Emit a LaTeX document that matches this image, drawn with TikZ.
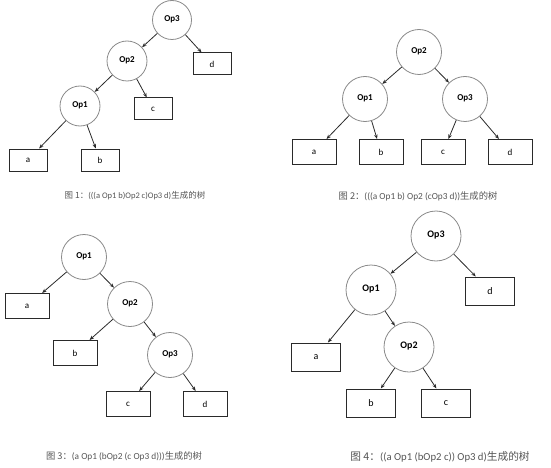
\documentclass[tikz,border=0pt]{standalone}
\usepackage{fontspec}
\setmainfont{Carlito}
\newfontfamily\cjk{Noto Sans CJK SC}
\usetikzlibrary{arrows.meta}
\definecolor{Ink}{HTML}{2A2A2A}
\definecolor{Rim}{HTML}{8A8A8A}

\begin{document}
\begin{tikzpicture}[x=1pt,y=-1pt,
  opnode/.style={circle,draw=Rim,line width=0.8pt,inner sep=0pt,minimum size=#1,
    font=\fontsize{9}{10}\selectfont\bfseries,text depth=3pt},
  leaf/.style 2 args={rectangle,draw=Ink,line width=1pt,inner sep=0pt,
    minimum width=#1,minimum height=#2,font=\fontsize{9}{10}\selectfont},
  link/.style={-{Stealth[length=4.5pt,width=3.5pt]},Ink,line width=0.8pt},
  figcap/.style={font=\fontsize{8.5}{10}\selectfont,text=Ink!80}]
\useasboundingbox (0,0) rectangle (551,468);
% tree 1
\node[opnode=39pt] (t1op3) at (172,20) {Op3};
\node[opnode=40pt] (t1op2) at (127,61) {Op2};
\node[opnode=40pt] (t1op1) at (80,106) {Op1};
\node[leaf={38pt}{22pt}] (t1d) at (212,64) {d};
\node[leaf={38pt}{22pt}] (t1c) at (153,109) {c};
\node[leaf={38pt}{22pt}] (t1a) at (28,160) {a};
\node[leaf={38pt}{22pt}] (t1b) at (100,160) {b};
\draw[link] (t1op3) -- (t1op2);
\draw[link] (t1op3) -- (t1d);
\draw[link] (t1op2) -- (t1op1);
\draw[link] (t1op2) -- (t1c);
\draw[link] (t1op1) -- (t1a);
\draw[link] (t1op1) -- (t1b);
\node[figcap] (t1cap) at (135,196) {{\cjk 图 1：}(((a Op1 b)Op2 c)Op3 d){\cjk 生成的树}};
% tree 2
\node[opnode=45pt] (t2op2) at (419,52) {Op2};
\node[opnode=45pt] (t2op1) at (365,99) {Op1};
\node[opnode=45pt] (t2op3) at (465,99) {Op3};
\node[leaf={44pt}{25pt}] (t2a) at (314,152) {a};
\node[leaf={44pt}{25pt}] (t2b) at (381,152) {b};
\node[leaf={44pt}{25pt}] (t2c) at (443,152) {c};
\node[leaf={44pt}{25pt}] (t2d) at (510,152) {d};
\draw[link] (t2op2) -- (t2op1);
\draw[link] (t2op2) -- (t2op3);
\draw[link] (t2op1) -- (t2a);
\draw[link] (t2op1) -- (t2b);
\draw[link] (t2op3) -- (t2c);
\draw[link] (t2op3) -- (t2d);
\node[figcap,font=\fontsize{9.3}{11}\selectfont] (t2cap) at (418,196) {{\cjk 图 2：}(((a Op1 b) Op2 (cOp3 d)){\cjk 生成的树}};
% tree 3
\node[opnode=45pt] (t3op1) at (84,257) {Op1};
\node[opnode=45pt] (t3op2) at (130,304) {Op2};
\node[opnode=45pt] (t3op3) at (170,355) {Op3};
\node[leaf={44pt}{25pt}] (t3a) at (27,306) {a};
\node[leaf={44pt}{25pt}] (t3b) at (75,353) {b};
\node[leaf={44pt}{25pt}] (t3c) at (128,404) {c};
\node[leaf={44pt}{25pt}] (t3d) at (205,404) {d};
\draw[link] (t3op1) -- (t3a);
\draw[link] (t3op1) -- (t3op2);
\draw[link] (t3op2) -- (t3b);
\draw[link] (t3op2) -- (t3op3);
\draw[link] (t3op3) -- (t3c);
\draw[link] (t3op3) -- (t3d);
\node[figcap,font=\fontsize{9.3}{11}\selectfont] (t3cap) at (124,456) {{\cjk 图 3：}(a Op1 (bOp2 (c Op3 d))){\cjk 生成的树}};
% tree 4
\node[opnode=50pt,font=\fontsize{10}{11}\selectfont\bfseries] (t4op3) at (436,236) {Op3};
\node[opnode=50pt,font=\fontsize{10}{11}\selectfont\bfseries] (t4op1) at (371,290) {Op1};
\node[opnode=50pt,font=\fontsize{10}{11}\selectfont\bfseries] (t4op2) at (409,347) {Op2};
\node[leaf={49pt}{28pt},font=\fontsize{10}{11}\selectfont] (t4d) at (490,291) {d};
\node[leaf={49pt}{28pt},font=\fontsize{10}{11}\selectfont] (t4a) at (316,357) {a};
\node[leaf={49pt}{28pt},font=\fontsize{10}{11}\selectfont] (t4b) at (371,403) {b};
\node[leaf={49pt}{28pt},font=\fontsize{10}{11}\selectfont] (t4c) at (446,403) {c};
\draw[link] (t4op3) -- (t4op1);
\draw[link] (t4op3) -- (t4d);
\draw[link] (t4op1) -- (t4a);
\draw[link] (t4op1) -- (t4op2);
\draw[link] (t4op2) -- (t4b);
\draw[link] (t4op2) -- (t4c);
\node[figcap,font=\fontsize{10.7}{12}\selectfont] (t4cap) at (440,457) {{\cjk 图 4：}((a Op1 (bOp2 c)) Op3 d){\cjk 生成的树}};
\end{tikzpicture}
\end{document}
